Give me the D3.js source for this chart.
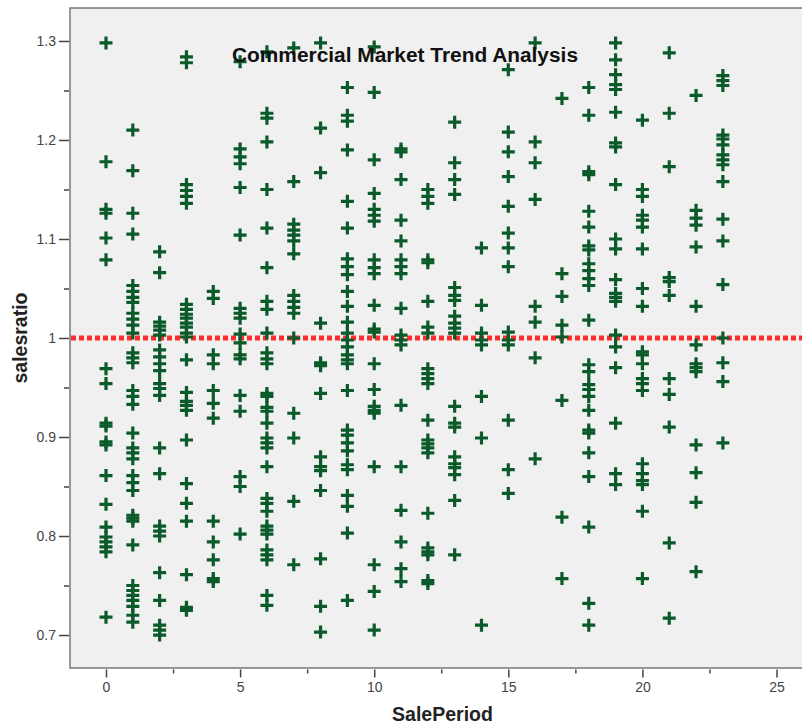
<!DOCTYPE html>
<html>
<head>
<meta charset="utf-8">
<script src="https://cdn.jsdelivr.net/npm/d3@7"></script>
<style>
  body { margin: 0; background: #fff; }
  svg { display: block; font-family: "Liberation Sans", Arial, sans-serif; }
</style>
</head>
<body>
<div class="chart"></div>
<script>
// Sale periods on the x axis
var periods = [0, 1, 2, 3, 4, 5, 6, 7, 8, 9, 10, 11, 12, 13, 14, 15, 16, 17, 18, 19, 20, 21, 22, 23]

// Sales ratios observed in each period (same order as periods)
var ratios = [
    [1.298, 1.178, 1.130, 1.126, 1.101, 1.079, 0.969, 0.954, 0.914, 0.911, 0.895, 0.892, 0.861, 0.832, 0.809, 0.799, 0.794, 0.789, 0.784, 0.718],
    [1.210, 1.169, 1.126, 1.105, 1.053, 1.047, 1.041, 1.036, 1.025, 1.019, 1.013, 1.005, 0.985, 0.980, 0.975, 0.947, 0.941, 0.933, 0.904, 0.889, 0.884, 0.878, 0.861, 0.854, 0.846, 0.821, 0.818, 0.815, 0.791, 0.750, 0.745, 0.740, 0.735, 0.729, 0.720, 0.713],
    [1.087, 1.066, 1.016, 1.012, 1.008, 1.003, 0.988, 0.981, 0.974, 0.967, 0.954, 0.949, 0.942, 0.889, 0.863, 0.810, 0.805, 0.800, 0.763, 0.735, 0.710, 0.705, 0.700],
    [1.284, 1.278, 1.155, 1.149, 1.143, 1.136, 1.034, 1.029, 1.024, 1.020, 1.015, 1.011, 1.005, 1.001, 0.978, 0.945, 0.936, 0.932, 0.927, 0.897, 0.853, 0.833, 0.815, 0.761, 0.728, 0.725],
    [1.047, 1.040, 0.983, 0.974, 0.947, 0.934, 0.919, 0.815, 0.794, 0.776, 0.757, 0.754],
    [1.279, 1.191, 1.183, 1.176, 1.152, 1.104, 1.030, 1.025, 1.020, 1.004, 0.995, 0.983, 0.979, 0.942, 0.926, 0.860, 0.850, 0.802],
    [1.289, 1.227, 1.222, 1.198, 1.150, 1.111, 1.071, 1.037, 1.029, 1.005, 0.985, 0.979, 0.974, 0.944, 0.941, 0.930, 0.926, 0.914, 0.899, 0.894, 0.889, 0.870, 0.838, 0.833, 0.825, 0.810, 0.806, 0.802, 0.786, 0.781, 0.776, 0.740, 0.730],
    [1.293, 1.158, 1.115, 1.109, 1.104, 1.098, 1.085, 1.043, 1.037, 1.031, 1.025, 1.000, 0.924, 0.899, 0.835, 0.771],
    [1.298, 1.212, 1.167, 1.015, 0.975, 0.972, 0.944, 0.880, 0.870, 0.866, 0.846, 0.777, 0.729, 0.703],
    [1.253, 1.225, 1.219, 1.190, 1.138, 1.111, 1.080, 1.072, 1.064, 1.047, 1.032, 1.016, 1.005, 0.998, 0.991, 0.983, 0.978, 0.974, 0.947, 0.907, 0.902, 0.894, 0.886, 0.872, 0.867, 0.841, 0.830, 0.803, 0.735],
    [1.294, 1.248, 1.180, 1.146, 1.130, 1.124, 1.118, 1.079, 1.071, 1.065, 1.033, 1.009, 1.006, 0.974, 0.948, 0.931, 0.927, 0.924, 0.870, 0.771, 0.744, 0.705],
    [1.191, 1.188, 1.160, 1.119, 1.098, 1.079, 1.072, 1.065, 1.030, 1.003, 0.998, 0.993, 0.932, 0.870, 0.826, 0.794, 0.767, 0.754],
    [1.150, 1.143, 1.136, 1.079, 1.076, 1.037, 1.011, 1.005, 0.969, 0.964, 0.959, 0.954, 0.917, 0.897, 0.893, 0.889, 0.884, 0.823, 0.788, 0.784, 0.781, 0.755, 0.752],
    [1.218, 1.177, 1.160, 1.145, 1.051, 1.043, 1.038, 1.022, 1.015, 1.010, 1.005, 0.931, 0.914, 0.910, 0.880, 0.873, 0.869, 0.862, 0.836, 0.781],
    [1.091, 1.033, 1.005, 0.998, 0.993, 0.941, 0.899, 0.710],
    [1.271, 1.208, 1.188, 1.163, 1.133, 1.106, 1.091, 1.072, 1.006, 0.998, 0.993, 0.917, 0.867, 0.843],
    [1.298, 1.198, 1.177, 1.140, 1.032, 1.016, 0.980, 0.878],
    [1.242, 1.065, 1.042, 1.013, 1.001, 0.937, 0.819, 0.757],
    [1.253, 1.225, 1.168, 1.165, 1.128, 1.112, 1.093, 1.089, 1.075, 1.068, 1.060, 1.053, 1.018, 0.973, 0.966, 0.953, 0.948, 0.941, 0.927, 0.907, 0.904, 0.884, 0.860, 0.809, 0.732, 0.710],
    [1.298, 1.281, 1.266, 1.256, 1.251, 1.228, 1.197, 1.193, 1.155, 1.100, 1.090, 1.059, 1.045, 1.041, 1.037, 1.003, 0.991, 0.970, 0.914, 0.863, 0.852],
    [1.220, 1.150, 1.143, 1.124, 1.119, 1.112, 1.090, 1.050, 1.032, 0.986, 0.983, 0.974, 0.959, 0.954, 0.947, 0.873, 0.863, 0.856, 0.852, 0.825, 0.757],
    [1.288, 1.227, 1.173, 1.061, 1.057, 1.043, 0.959, 0.943, 0.910, 0.793, 0.717],
    [1.245, 1.129, 1.121, 1.114, 1.092, 1.032, 0.993, 0.974, 0.970, 0.966, 0.892, 0.864, 0.834, 0.764],
    [1.265, 1.260, 1.255, 1.205, 1.201, 1.195, 1.185, 1.180, 1.175, 1.158, 1.120, 1.098, 1.054, 1.000, 0.975, 0.956, 0.894]
]

var xTicks = [0, 5, 10, 15, 20, 25]
var xMinorTicks = [2.5, 7.5, 12.5, 17.5, 22.5]
var yTicks = [0.7, 0.8, 0.9, 1.0, 1.1, 1.2, 1.3]
var yMinorTicks = [0.75, 0.85, 0.95, 1.05, 1.15, 1.25]
var referenceRatio = 1.0

var width = 802
var height = 728
var plotLeft = 70, plotTop = 8, plotBottom = 668, plotRight = 802

var points = []
periods.forEach(function (p, i) {
    ratios[i].forEach(function (r) {
        points.push({ period: p, ratio: r })
    })
})

var svg = d3.select('div.chart').append('svg')
    .attr('width', width)
    .attr('height', height)

var x = d3.scaleLinear()
    .domain([-1.342, 25.95])
    .range([plotLeft, plotRight])

var y = d3.scaleLinear()
    .domain([0.6667, 1.3333])
    .range([plotBottom, plotTop])

// Plot background and frame
svg.append('rect')
    .attr('x', plotLeft)
    .attr('y', plotTop)
    .attr('width', plotRight - plotLeft + 2)
    .attr('height', plotBottom - plotTop)
    .attr('fill', '#f0f0f0')
    .attr('stroke', '#777')
    .attr('stroke-width', 1.5)

// Y axis, major and minor ticks
svg.append('g')
    .attr('transform', 'translate(' + (plotLeft - 1) + ',0)')
    .call(d3.axisLeft(y).tickValues(yTicks).tickSize(10).tickPadding(3)
        .tickFormat(function (d) { return d === 1 ? '1' : d3.format('.1f')(d) }))
    .select('.domain').remove()
svg.append('g')
    .attr('transform', 'translate(' + (plotLeft - 1) + ',0)')
    .call(d3.axisLeft(y).tickValues(yMinorTicks).tickSize(5).tickFormat(''))
    .select('.domain').remove()

// X axis, major and minor ticks
svg.append('g')
    .attr('transform', 'translate(0,' + (plotBottom + 1.5) + ')')
    .call(d3.axisBottom(x).tickValues(xTicks).tickSize(8).tickPadding(5))
    .select('.domain').remove()
svg.append('g')
    .attr('transform', 'translate(0,' + (plotBottom + 1.5) + ')')
    .call(d3.axisBottom(x).tickValues(xMinorTicks).tickSize(4).tickFormat(''))
    .select('.domain').remove()

svg.selectAll('.tick line').attr('stroke', '#444').attr('stroke-width', 1.5)
svg.selectAll('.tick text')
    .attr('font-size', 14)
    .attr('fill', '#444')
    .attr('font-family', '"Liberation Sans", Arial, sans-serif')

// Reference line at ratio 1
svg.append('line')
    .attr('x1', plotLeft + 1)
    .attr('x2', plotRight)
    .attr('y1', y(referenceRatio))
    .attr('y2', y(referenceRatio))
    .attr('stroke', '#ff2a2a')
    .attr('stroke-width', 5)
    .attr('stroke-dasharray', '5,3')

// Plus markers
var half = 6.5
var marks = svg.append('g')
    .attr('stroke', '#0a5a2a')
    .attr('stroke-width', 3.2)
marks.selectAll('path')
    .data(points)
    .enter()
    .append('path')
    .attr('d', function (d) {
        var cx = x(d.period), cy = y(d.ratio)
        return 'M' + (cx - half) + ',' + cy + 'H' + (cx + half) +
            'M' + cx + ',' + (cy - half) + 'V' + (cy + half)
    })

// Title
svg.append('text')
    .text('Commercial Market Trend Analysis')
    .attr('x', 405)
    .attr('y', 62)
    .attr('text-anchor', 'middle')
    .attr('font-size', 20)
    .attr('font-weight', 'bold')
    .attr('textLength', 346)
    .attr('lengthAdjust', 'spacingAndGlyphs')
    .attr('fill', '#111')

// Axis titles
svg.append('text')
    .text('SalePeriod')
    .attr('x', 442.5)
    .attr('y', 721)
    .attr('text-anchor', 'middle')
    .attr('font-size', 19.5)
    .attr('font-weight', 'bold')
    .attr('fill', '#222')

svg.append('text')
    .text('salesratio')
    .attr('transform', 'translate(27,338) rotate(-90)')
    .attr('text-anchor', 'middle')
    .attr('font-size', 19.5)
    .attr('font-weight', 'bold')
    .attr('fill', '#222')
</script>
</body>
</html>
